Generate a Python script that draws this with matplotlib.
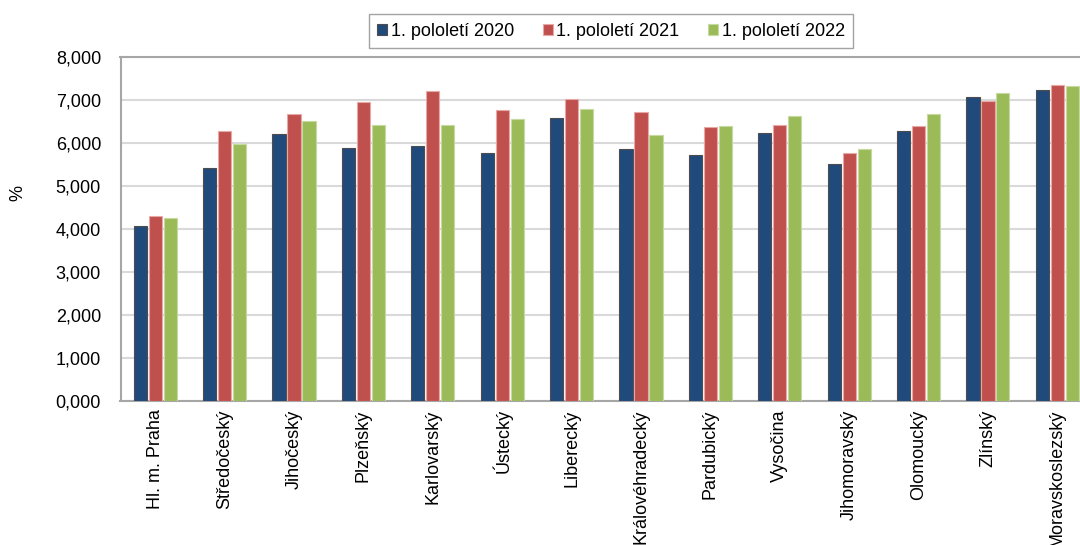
import numpy as np
import matplotlib
matplotlib.use("Agg")
import matplotlib.pyplot as plt
from matplotlib.ticker import FuncFormatter

plt.rcParams['font.family'] = ['Liberation Sans', 'DejaVu Sans']

regions = ["Hl. m. Praha", "Středočeský", "Jihočeský", "Plzeňský", "Karlovarský",
           "Ústecký", "Liberecký", "Královéhradecký", "Pardubický", "Vysočina",
           "Jihomoravský", "Olomoucký", "Zlínský", "Moravskoslezský"]
h2020 = [4.07, 5.42, 6.21, 5.88, 5.93, 5.77, 6.58, 5.86, 5.73, 6.24, 5.52, 6.27, 7.07, 7.23]
h2021 = [4.30, 6.28, 6.67, 6.95, 7.21, 6.77, 7.02, 6.71, 6.37, 6.41, 5.77, 6.40, 6.98, 7.35]
h2022 = [4.26, 5.98, 6.51, 6.42, 6.42, 6.56, 6.79, 6.19, 6.40, 6.62, 5.86, 6.68, 7.16, 7.33]
series_names = ["1. pololetí 2020", "1. pololetí 2021", "1. pololetí 2022"]

colors = ["#214a7c", "#c0504d", "#9bbb59"]
edges = ["#4d4d4d", "#e8a8a6", "#c6d9a0"]

fig = plt.figure(figsize=(10.8, 5.45), dpi=100)
ax = fig.add_axes([120.5 / 1080, 1 - 401 / 545, (1092 - 120.5) / 1080, (401 - 57) / 545])

x = np.arange(len(regions))
w = 0.19
step = 0.216
for i, (vals, c, e, name) in enumerate(zip([h2020, h2021, h2022], colors, edges, series_names)):
    ax.bar(x + (i - 1) * step, vals, w, color=c, edgecolor=e, linewidth=0.8,
           label=name, zorder=3)

ax.set_xlim(-0.5, len(regions) - 0.5)
ax.set_ylim(0, 8)
ax.set_yticks(np.arange(0, 9, 1))
ax.yaxis.set_major_formatter(FuncFormatter(lambda v, p: f"{v:.3f}".replace(".", ",")))
ax.set_xticks(x)
ax.set_xticklabels(regions, rotation=90, fontsize=13)
ax.tick_params(axis='both', length=0, labelsize=13, colors='black')
ax.tick_params(axis='x', pad=6)
ax.tick_params(axis='y', pad=14)
ax.grid(axis='y', color='#d9d9d9', linewidth=1.5, zorder=0)
for s in ax.spines.values():
    s.set_color('#a6a6a6')
    s.set_linewidth(1.5)
fig.text(18 / 1080, 1 - 193 / 545, "%", rotation=90, fontsize=13, ha='center', va='center')

leg = fig.legend(loc='center', bbox_to_anchor=(611 / 1080, 1 - 31 / 545), ncol=3,
                 fontsize=13, frameon=True, fancybox=False, edgecolor='#8c8c8c',
                 handlelength=0.55, handleheight=0.55, handletextpad=0.2,
                 columnspacing=1.6, borderpad=0.45)
leg.get_frame().set_linewidth(1.0)

fig.savefig("out.png", dpi=100)
